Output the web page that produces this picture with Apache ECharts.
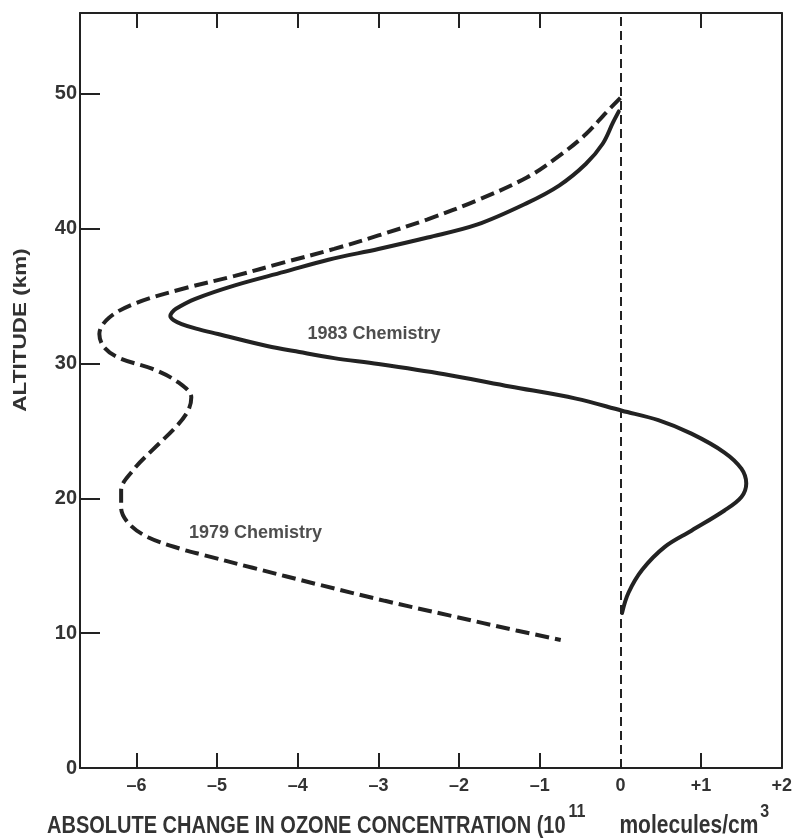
<!DOCTYPE html>
<html>
<head>
<meta charset="utf-8">
<script src="https://cdn.jsdelivr.net/npm/echarts@6/dist/echarts.min.js"></script>
<style>
  html, body { margin: 0; padding: 0; background: #fff; }
  #chart { width: 795px; height: 840px; }
</style>
</head>
<body>
<div id="chart"></div>
<script>
// Absolute ozone change profile (10^11 molecules/cm^3) versus altitude (km)
const change1983 = [-0.02, -0.09, -0.22, -0.43, -0.76, -1.16, -1.78, -2.39, -3.00, -3.62, -4.17, -4.78, -5.27, -5.51, -5.56, -5.58, -5.54, -5.44, -5.26, -4.99, -4.38, -3.98, -3.55, -3.00, -2.18, -1.37, -0.55, 0.02, 0.47, 0.88, 1.29, 1.50, 1.56, 1.50, 1.29, 0.88, 0.55, 0.27, 0.10, 0.02];
const altitude1983 = [48.7, 47.9, 46.3, 44.8, 43.2, 41.9, 40.3, 39.35, 38.5, 37.7, 36.8, 35.8, 34.8, 34.07, 33.78, 33.52, 33.22, 32.93, 32.59, 32.19, 31.3, 30.85, 30.4, 29.96, 29.2, 28.3, 27.4, 26.5, 25.8, 24.8, 23.4, 22.2, 21.1, 20.1, 19.1, 17.6, 16.4, 14.7, 13.0, 11.5];

const change1979 = [0.0, -0.18, -0.43, -0.76, -1.16, -1.78, -2.39, -3.00, -3.55, -4.17, -4.78, -5.39, -6.00, -6.34, -6.46, -6.40, -6.21, -5.80, -5.48, -5.32, -5.36, -5.51, -5.80, -6.04, -6.19, -6.19, -6.09, -5.85, -5.45, -5.17, -4.56, -3.74, -2.92, -2.11, -1.29, -0.74];
const altitude1979 = [49.7, 48.6, 47.0, 45.4, 43.8, 42.1, 40.7, 39.5, 38.5, 37.5, 36.5, 35.6, 34.5, 33.4, 32.2, 31.2, 30.4, 29.6, 28.6, 27.5, 26.5, 25.3, 23.6, 22.1, 20.6, 19.3, 18.1, 17.1, 16.25, 15.8, 14.85, 13.6, 12.4, 11.3, 10.2, 9.5];

const xTicks = [-6, -5, -4, -3, -2, -1, 0, 1, 2];
const xTickMarks = [-6, -5, -4, -3, -2, -1, 1];
const yTicks = [0, 10, 20, 30, 40, 50];
const yTickMarks = [10, 20, 30, 40, 50];

const curveNames = ['1983 Chemistry', '1979 Chemistry'];
const curveLabelAt = [[-3.88, 32.2], [-5.35, 17.4]];

const xTitleMain = 'ABSOLUTE CHANGE IN OZONE CONCENTRATION (10';
const xTitleExp = '11';
const xTitleUnit = 'molecules/cm';
const xTitleUnitExp = '3';
const yTitle = 'ALTITUDE (km)';

const ink = '#222';
const textInk = '#333';
const font = '"Liberation Sans", Arial, Helvetica, sans-serif';

const zip = (xs, ys) => xs.map((v, i) => [v, ys[i]]);
const fmtX = v => v > 0 ? '+' + v : (v < 0 ? '\u2013' + Math.abs(v) : '0');

// measure text widths so the axis title pieces can be laid out in a row
const measureCtx = document.createElement('canvas').getContext('2d');
function textWidth(str, f) {
  measureCtx.font = f;
  return measureCtx.measureText(str).width;
}

// x axis title: main caps text, superscript exponent, unit, superscript exponent
function xTitlePieces() {
  const fMain = 'bold 20px ' + font;
  const fExp = 'bold 16px ' + font;
  const fUnit = 'bold 21px ' + font;
  const midY = 826;
  const supY = 812;
  const pieces = [];
  let x = 47;
  pieces.push({ text: xTitleMain, f: fMain, x, y: midY });
  x += textWidth(xTitleMain, fMain) + 3;
  pieces.push({ text: xTitleExp, f: fExp, x, y: supY });
  x += textWidth(xTitleExp, fExp) + 34;
  pieces.push({ text: xTitleUnit, f: fUnit, x, y: midY });
  x += textWidth(xTitleUnit, fUnit) + 2;
  pieces.push({ text: xTitleUnitExp, f: fExp, x, y: supY });
  return pieces.map(p => ({
    type: 'text', x: p.x, y: p.y, scaleY: 1.2,
    style: { text: p.text, fill: textInk, font: p.f, textAlign: 'left', textVerticalAlign: 'middle' }
  }));
}

const chart = echarts.init(document.getElementById('chart'), null, { renderer: 'canvas' });

const frameLine = { onZero: false, lineStyle: { color: ink, width: 2 } };

const option = {
  animation: false,
  backgroundColor: '#fff',
  grid: { left: 80, right: 8, top: 13, bottom: 72, containLabel: false },
  xAxis: [
    {
      type: 'value', min: -6.7, max: 2, position: 'bottom',
      splitLine: { show: false },
      axisLine: frameLine,
      axisTick: { inside: true, length: 15, customValues: xTickMarks, lineStyle: { color: ink, width: 2 } },
      axisLabel: { customValues: xTicks, formatter: fmtX, margin: 9, color: textInk, fontSize: 18, fontWeight: 'bold', fontFamily: font }
    },
    {
      type: 'value', min: -6.7, max: 2, position: 'top',
      splitLine: { show: false },
      axisLine: frameLine,
      axisTick: { inside: true, length: 15, customValues: xTickMarks, lineStyle: { color: ink, width: 2 } },
      axisLabel: { show: false }
    }
  ],
  yAxis: [
    {
      type: 'value', min: 0, max: 56, position: 'left',
      splitLine: { show: false },
      axisLine: frameLine,
      axisTick: { inside: true, length: 20, customValues: yTickMarks, lineStyle: { color: ink, width: 2 } },
      axisLabel: { customValues: yTicks, margin: 3, color: textInk, fontSize: 20, fontWeight: 'bold', fontFamily: font }
    },
    {
      type: 'value', min: 0, max: 56, position: 'right',
      splitLine: { show: false },
      axisLine: frameLine,
      axisTick: { show: false },
      axisLabel: { show: false }
    }
  ],
  series: [
    {
      name: curveNames[0], type: 'line', smooth: 0.35, symbol: 'none',
      data: zip(change1983, altitude1983),
      lineStyle: { color: ink, width: 4, cap: 'round' },
      markLine: {
        silent: true, symbol: 'none', label: { show: false },
        lineStyle: { color: ink, width: 2, type: [9, 5] },
        data: [[{ coord: [0, 0] }, { coord: [0, 56] }]]
      }
    },
    {
      name: curveNames[1], type: 'line', smooth: 0.35, symbol: 'none',
      data: zip(change1979, altitude1979),
      lineStyle: { color: ink, width: 4, type: [14, 6] }
    },
    {
      type: 'scatter', symbolSize: 0, silent: true,
      data: curveLabelAt.map((p, i) => ({ value: p, name: curveNames[i] })),
      label: {
        show: true, position: 'right', distance: 0,
        formatter: p => p.name,
        color: ink, fontSize: 18, fontWeight: 'bold', fontFamily: font
      }
    }
  ],
  graphic: [
    {
      type: 'text', x: 21, y: 330, rotation: Math.PI / 2, scaleX: 1.25,
      style: {
        text: yTitle, fill: textInk, font: 'bold 18px ' + font,
        textAlign: 'center', textVerticalAlign: 'middle'
      }
    }
  ].concat(xTitlePieces())
};

chart.setOption(option);
</script>
</body>
</html>
